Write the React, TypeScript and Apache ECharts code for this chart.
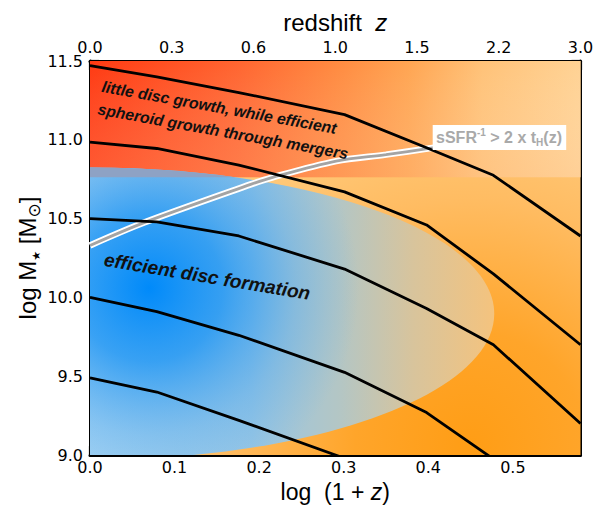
import React, { useEffect, useRef } from 'react';
import * as echarts from 'echarts';

// ---- axes ----
const xMin = 0;
const xMax = 0.58;
const yMin = 9.0;
const yMax = 11.5;
const zTickLabels = ['0.0', '0.3', '0.6', '1.0', '1.5', '2.2', '3.0'];

// ---- mass growth tracks (log(1+z) vs log M*) ----
const trackX = [0, 0.079, 0.176, 0.301, 0.398, 0.477, 0.58];
const track1 = [11.47, 11.4, 11.3, 11.16, 10.95, 10.775, 10.39];
const track2 = [10.985, 10.945, 10.84, 10.67, 10.46, 10.15, 9.7];
const track3 = [10.5, 10.48, 10.39, 10.18, 9.93, 9.7, 9.2];
const track4 = [10.0, 9.91, 9.76, 9.525, 9.27, 8.975, null];
const track5 = [9.49, 9.4, 9.22, 8.98, null, null, null];

// ---- sSFR^-1 > 2 t_H(z) boundary ----
const sfrX = [0, 0.064, 0.19, 0.214, 0.291, 0.35, 0.409];
const sfrY = [10.33, 10.475, 10.717, 10.759, 10.865, 10.906, 10.952];

// ---- shaded regions (data units) ----
const bandLow = 10.762;
const discCenter = [0.0, 9.897];
const discRadii = [0.478, 0.927];
const blueCore = [0.07, 10.06];
const orangeCore = [0.45, 9.05];

const G = echarts.graphic as any;

function renderBg(_params: any, api: any) {
  const tl = api.coord([xMin, yMax]);
  const br = api.coord([xMax, yMin]);
  const yb = api.coord([xMin, bandLow])[1];
  const c = api.coord(discCenter);
  const rx = api.coord([discCenter[0] + discRadii[0], discCenter[1]])[0] - c[0];
  const ry = c[1] - api.coord([discCenter[0], discCenter[1] + discRadii[1]])[1];
  const core = api.coord(blueCore);
  const oc = api.coord(orangeCore);
  const W = br[0] - tl[0];
  const H = br[1] - tl[1];
  const s0 = Math.min(1, Math.max(-1, (c[1] - yb) / ry));
  const t0 = Math.asin(s0);
  const pts: number[][] = [];
  for (let i = 0; i <= 48; i++) {
    const t = t0 + ((Math.PI - 2 * t0) * i) / 48;
    pts.push([c[0] + rx * Math.cos(t), c[1] - ry * Math.sin(t)]);
  }
  return {
    type: 'group',
    children: [
      {
        type: 'rect',
        shape: { x: tl[0], y: tl[1], width: W, height: H },
        style: {
          fill: new G.RadialGradient(oc[0], oc[1], 330, [
            { offset: 0, color: '#ff9d15' },
            { offset: 0.35, color: '#ffa52a' },
            { offset: 0.75, color: '#ffbc62' },
            { offset: 1, color: '#ffc878' },
          ], true),
        },
      },
      {
        type: 'rect',
        shape: { x: tl[0], y: tl[1], width: W, height: yb - tl[1] },
        style: {
          fill: new G.LinearGradient(tl[0], tl[1], br[0], tl[1], [
            { offset: 0, color: '#ff3a12' },
            { offset: 0.3, color: '#ff6530' },
            { offset: 0.5, color: '#ff8a40' },
            { offset: 0.65, color: '#ffa552' },
            { offset: 0.8, color: '#ffc278' },
            { offset: 1, color: '#ffd294' },
          ], true),
        },
      },
      {
        type: 'rect',
        shape: { x: tl[0], y: tl[1], width: W, height: yb - tl[1] },
        style: {
          fill: new G.LinearGradient(tl[0], tl[1], tl[0], yb, [
            { offset: 0, color: 'rgba(255,255,255,0)' },
            { offset: 1, color: 'rgba(255,200,160,0.22)' },
          ], true),
        },
      },
      {
        type: 'ellipse',
        shape: { cx: c[0], cy: c[1], rx, ry },
        style: {
          fill: new G.LinearGradient(c[0], 0, c[0] + rx, 0, [
            { offset: 0, color: '#a8d4f2' },
            { offset: 0.4, color: '#98c6e4' },
            { offset: 0.62, color: '#b4c6c4' },
            { offset: 0.8, color: '#d8c49c' },
            { offset: 1, color: '#f4c37e' },
          ], true),
        },
      },
      {
        type: 'ellipse',
        shape: { cx: c[0], cy: c[1], rx, ry },
        style: {
          fill: new G.RadialGradient(core[0], core[1], 210, [
            { offset: 0, color: 'rgba(0,138,250,1)' },
            { offset: 0.35, color: 'rgba(20,145,245,0.75)' },
            { offset: 0.7, color: 'rgba(60,160,240,0.3)' },
            { offset: 1, color: 'rgba(80,170,240,0)' },
          ], true),
        },
      },
      {
        type: 'polygon',
        shape: { points: pts },
        style: { fill: '#8ea2c4' },
      },
    ],
  };
}

const tickFont = 'DejaVu Sans';
const titleFont = 'Liberation Sans';

function lineSeries(ys: (number | null)[]) {
  return {
    type: 'line',
    xAxisIndex: 0,
    yAxisIndex: 0,
    data: trackX.map((x, i) => [x, ys[i]]).filter((p) => p[1] !== null),
    showSymbol: false,
    symbol: 'none',
    clip: true,
    silent: true,
    z: 4,
    lineStyle: { color: '#000', width: 2.8 },
  };
}

const axisLineStyle = { show: true, onZero: false, lineStyle: { color: '#000', width: 3 } };
const majorTick = { show: true, inside: true, length: 9, lineStyle: { color: '#000', width: 2.2 } };
const minorTick = { show: true, splitNumber: 5, length: 5, lineStyle: { color: '#000', width: 1.5 } };

export default function App() {
  const ref = useRef<HTMLDivElement>(null);
  useEffect(() => {
    if (!ref.current) return;
    const chart = echarts.init(ref.current, undefined, { renderer: 'svg' });
    const option: any = {
      animation: false,
      backgroundColor: '#ffffff',
      grid: { left: 90, right: 23.5, top: 61, bottom: 50.5, containLabel: false },
      xAxis: [
        {
          type: 'value',
          position: 'bottom',
          min: xMin,
          max: xMax,
          interval: 0.1,
          axisLine: axisLineStyle,
          axisTick: majorTick,
          splitLine: { show: false },
          axisLabel: {
            showMaxLabel: false,
            formatter: (v: number) => v.toFixed(1),
            fontFamily: tickFont,
            fontSize: 16,
            color: '#000',
            margin: 4,
          },
          name: 'log  (1 + {i|z})',
          nameLocation: 'middle',
          nameGap: 22,
          nameTextStyle: {
            fontFamily: titleFont,
            fontSize: 23,
            color: '#000',
            rich: { i: { fontFamily: titleFont, fontSize: 23, fontStyle: 'italic', color: '#000' } },
          },
        },
        {
          type: 'value',
          position: 'top',
          min: 0,
          max: 6,
          interval: 1,
          axisLine: axisLineStyle,
          axisTick: majorTick,
          minorTick: minorTick,
          splitLine: { show: false },
          minorSplitLine: { show: false },
          axisLabel: {
            formatter: (v: number) => zTickLabels[Math.round(v)] ?? '',
            fontFamily: tickFont,
            fontSize: 16,
            color: '#000',
            margin: 6,
          },
          name: 'redshift  {i|z}',
          nameLocation: 'middle',
          nameGap: 24,
          nameTextStyle: {
            fontFamily: titleFont,
            fontSize: 24,
            color: '#000',
            rich: { i: { fontFamily: titleFont, fontSize: 24, fontStyle: 'italic', color: '#000' } },
          },
        },
        {
          type: 'value',
          position: 'bottom',
          min: xMin,
          max: xMax,
          interval: 0.02,
          axisLine: { show: false, onZero: false },
          axisTick: { show: true, inside: true, length: 5, lineStyle: { color: '#000', width: 1.5 } },
          axisLabel: { show: false },
          splitLine: { show: false },
        },
      ],
      yAxis: [
        {
          type: 'value',
          position: 'left',
          min: yMin,
          max: yMax,
          interval: 0.5,
          axisLine: axisLineStyle,
          axisTick: majorTick,
          minorTick: minorTick,
          splitLine: { show: false },
          minorSplitLine: { show: false },
          axisLabel: {
            formatter: (v: number) => v.toFixed(1),
            fontFamily: tickFont,
            fontSize: 16,
            color: '#000',
            margin: 7,
          },
          name: 'log M{s|★} [M{o|⊙}]',
          nameLocation: 'middle',
          nameRotate: 90,
          nameGap: 48,
          nameMoveOverlap: false,
          nameTextStyle: {
            fontFamily: titleFont,
            fontSize: 24,
            lineHeight: 30,
            color: '#000',
            rich: {
              s: { fontFamily: 'DejaVu Sans', fontSize: 11, lineHeight: 14, verticalAlign: 'bottom', color: '#000' },
              o: { fontFamily: 'DejaVu Sans', fontSize: 17, lineHeight: 18, verticalAlign: 'bottom', color: '#000' },
            },
          },
        },
        {
          type: 'value',
          position: 'right',
          min: yMin,
          max: yMax,
          interval: 0.5,
          axisLine: axisLineStyle,
          axisTick: majorTick,
          minorTick: minorTick,
          splitLine: { show: false },
          minorSplitLine: { show: false },
          axisLabel: { show: false },
        },
      ],
      series: [
        {
          type: 'custom',
          coordinateSystem: 'cartesian2d',
          xAxisIndex: 0,
          yAxisIndex: 0,
          clip: true,
          silent: true,
          z: 1,
          data: [[xMin, yMin]],
          renderItem: renderBg,
        },
        {
          type: 'line',
          xAxisIndex: 0,
          yAxisIndex: 0,
          data: sfrX.map((x, i) => [x, sfrY[i]]),
          smooth: 0.3,
          showSymbol: false,
          symbol: 'none',
          silent: true,
          z: 2,
          lineStyle: { color: '#ffffff', width: 6.5 },
        },
        {
          type: 'line',
          xAxisIndex: 0,
          yAxisIndex: 0,
          data: sfrX.map((x, i) => [x, sfrY[i]]),
          smooth: 0.3,
          showSymbol: false,
          symbol: 'none',
          silent: true,
          z: 3,
          lineStyle: { color: '#a4a4a4', width: 2.8 },
        },
        lineSeries(track1),
        lineSeries(track2),
        lineSeries(track3),
        lineSeries(track4),
        lineSeries(track5),
      ],
      graphic: [
        {
          type: 'text',
          x: 104,
          y: 75,
          rotation: -0.178,
          z: 10,
          style: {
            text: 'little disc growth, while efficient\nspheroid growth through mergers',
            fontFamily: titleFont,
            fontSize: 15.8,
            fontWeight: 'bold',
            fontStyle: 'italic',
            lineHeight: 23,
            fill: '#111',
            align: 'left',
            verticalAlign: 'top',
          },
        },
        {
          type: 'text',
          x: 106,
          y: 250,
          rotation: -0.165,
          z: 10,
          style: {
            text: 'efficient disc formation',
            fontFamily: titleFont,
            fontSize: 19,
            fontWeight: 'bold',
            fontStyle: 'italic',
            lineHeight: 19,
            fill: '#111',
            align: 'left',
            verticalAlign: 'top',
          },
        },
        {
          type: 'rect',
          shape: { x: 432.7, y: 125, width: 133.5, height: 25 },
          style: { fill: '#ffffff' },
          z: 10,
        },
        {
          type: 'text',
          x: 499,
          y: 137.5,
          z: 11,
          style: {
            text: 'sSFR{sup|-1} > 2 x t{sub|H}(z)',
            fontFamily: titleFont,
            fontSize: 16,
            fontWeight: 'bold',
            lineHeight: 20,
            fill: '#a9a9a9',
            align: 'center',
            verticalAlign: 'middle',
            rich: {
              sup: { fontFamily: titleFont, fontSize: 10, fontWeight: 'bold', lineHeight: 10, verticalAlign: 'top', fill: '#a9a9a9' },
              sub: { fontFamily: titleFont, fontSize: 10, fontWeight: 'bold', lineHeight: 10, verticalAlign: 'bottom', fill: '#a9a9a9' },
            },
          },
        },
      ],
    };
    chart.setOption(option);
    return () => chart.dispose();
  }, []);
  return (
    <div
      ref={ref}
      style={{ position: 'absolute', left: 0, top: 0, width: 604, height: 508 }}
    />
  );
}
